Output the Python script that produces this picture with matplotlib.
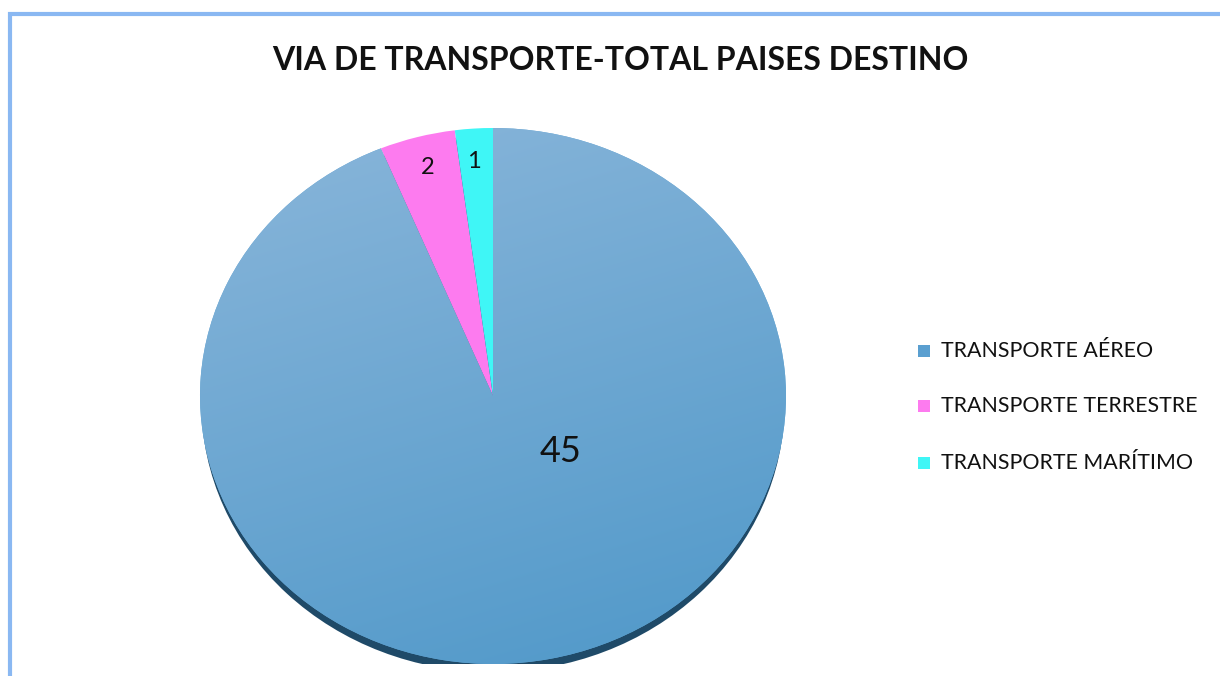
import matplotlib.pyplot as plt
import numpy as np
from matplotlib.patches import Ellipse, Rectangle

categories = ['TRANSPORTE AÉREO', 'TRANSPORTE TERRESTRE', 'TRANSPORTE MARÍTIMO']
values = [45, 2, 1]
colors = ['#66a8d6', '#fd7bef', '#3ff6f6']

W, H = 1220, 676
fig = plt.figure(figsize=(W / 100, H / 100), dpi=100)
plt.rcParams['font.family'] = ['Lato', 'DejaVu Sans']

# frame of the chart area (cut at right/bottom)
fig.patches.append(Rectangle((10 / W, -0.05), 1.2, (H - 14) / H + 0.05,
                             transform=fig.transFigure, fill=False,
                             edgecolor='#8ab8f2', linewidth=3))

fig.text(620 / W, 1 - 60 / H, 'VIA DE TRANSPORTE-TOTAL PAISES DESTINO',
         ha='center', va='center', fontsize=23, fontweight='bold', color='#111111')

# pie is slightly elliptical in the reference
cx, cy, rx, ry = 493, 396, 293, 268
ax = fig.add_axes([(cx - rx) / W, 1 - (cy + ry) / H, 2 * rx / W, 2 * ry / H])

# bottom shadow
ax.add_patch(Ellipse((0, -0.03), 1.99, 2.0, facecolor='#1f4a68', edgecolor='none', zorder=0))

wedges, texts = ax.pie(values, colors=colors, startangle=90, counterclock=False,
                       wedgeprops=dict(linewidth=0, zorder=2))
ax.set_aspect('auto')
ax.set_xlim(-1, 1)
ax.set_ylim(-1, 1)

# light gradient on the big slice
yy, xx = np.mgrid[1:-1:200j, -1:1:200j]
t = np.clip((0.75 * (1 - yy) / 2 + 0.25 * (xx + 1) / 2), 0, 1)
top = np.array([0x8a, 0xb6, 0xda]) / 255
bot = np.array([0x4f, 0x98, 0xc9]) / 255
img = top[None, None, :] * (1 - t[..., None]) + bot[None, None, :] * t[..., None]
im = ax.imshow(img, extent=(-1, 1, -1, 1), zorder=3, aspect='auto', interpolation='bilinear')
im.set_clip_path(wedges[0])

# value labels
ax.text((561 - cx) / rx, -(452 - cy) / ry, str(values[0]), ha='center', va='center',
        fontsize=26, zorder=5, color='#111111')
ax.text((428 - cx) / rx, -(167 - cy) / ry, str(values[1]), ha='center', va='center',
        fontsize=17, zorder=5, color='#111111')
ax.text((474 - cx) / rx, -(161 - cy) / ry, str(values[2]), ha='center', va='center',
        fontsize=17, zorder=5, color='#111111')

leg_colors = ['#5a9fd0', colors[1], colors[2]]
leg_y = [351, 406, 463]
for lab, c, y in zip(categories, leg_colors, leg_y):
    fig.patches.append(Rectangle((918 / W, 1 - (y + 6) / H), 12 / W, 12 / H,
                                 transform=fig.transFigure, facecolor=c, edgecolor='none'))
    fig.text(941 / W, 1 - y / H, lab, ha='left', va='center', fontsize=15.4, color='#111111')

fig.savefig('out.png', dpi=100)
